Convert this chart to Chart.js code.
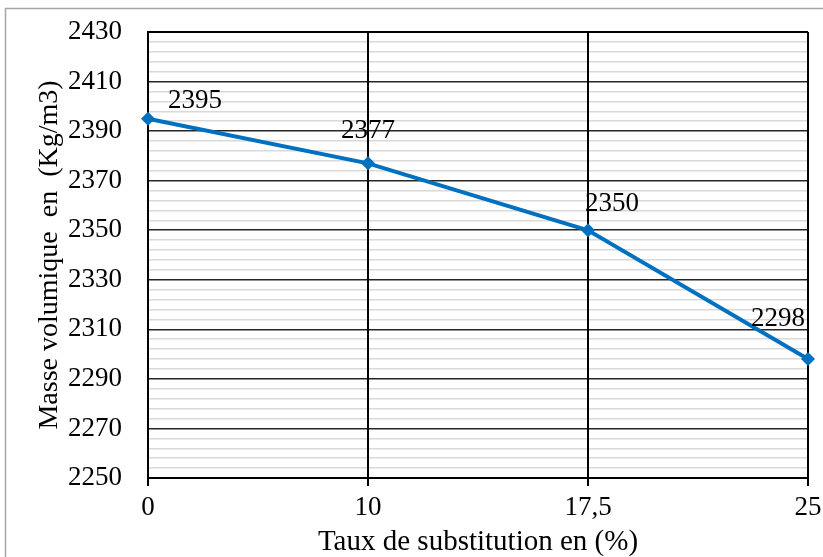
<!DOCTYPE html>
<html>
<head>
<meta charset="utf-8">
<script src="https://cdn.jsdelivr.net/npm/chart.js@4/dist/chart.umd.min.js"></script>
<style>
  html, body { margin: 0; padding: 0; background: #fff; }
  #wrap { position: relative; width: 823px; height: 557px; }
</style>
</head>
<body>
<div id="wrap"><canvas id="densityChart" width="823" height="557"></canvas></div>
<script>
// substitution rates (%) and density (kg/m3)
const taux = ['0', '10', '17,5', '25'];
const masse = [2395, 2377, 2350, 2298];

const yMin = 2250;
const yMax = 2430;
const yMajor = 20;
const yMinor = 4;

// where each value label sits relative to its point
const labelDx = [47, 0, 24, -30];
const labelDy = [-18, -32, -26, -40];

const serif = "'Liberation Serif', 'Times New Roman', serif";

// light grey frame around the whole chart
const framePlugin = {
	id: 'frame',
	beforeDraw(chart) {
		const c = chart.ctx;
		c.save();
		c.strokeStyle = '#a6a6a6';
		c.lineWidth = 1.5;
		c.strokeRect(5.5, 8.5, 840, 570);
		c.restore();
	},
};

// value labels next to each marker
const valueLabels = {
	id: 'valueLabels',
	afterDatasetsDraw(chart) {
		const c = chart.ctx;
		const meta = chart.getDatasetMeta(0);
		c.save();
		c.font = '27px ' + serif;
		c.fillStyle = '#000';
		c.textAlign = 'center';
		c.textBaseline = 'middle';
		meta.data.forEach((pt, i) => {
			c.fillText(String(masse[i]), pt.x + labelDx[i], pt.y + labelDy[i]);
		});
		c.restore();
	},
};

const ctx = document.getElementById('densityChart').getContext('2d');

new Chart(ctx, {
	type: 'line',
	data: {
		labels: taux,
		datasets: [
			{
				data: masse,
				borderColor: '#0070c0',
				backgroundColor: '#0070c0',
				borderWidth: 4,
				pointStyle: 'rectRot',
				pointRadius: 7,
				pointBorderWidth: 0,
				tension: 0,
				clip: false,
			},
		],
	},
	options: {
		responsive: false,
		animation: false,
		events: [],
		layout: { padding: { top: 32, right: 15, left: 0, bottom: 0 } },
		plugins: {
			legend: { display: false },
			tooltip: { enabled: false },
		},
		scales: {
			x: {
				type: 'category',
				offset: false,
				afterFit(scale) {
					scale.height = 79;
					scale.paddingLeft = 0;
					scale.paddingRight = 0;
				},
				grid: {
					color: '#000',
					lineWidth: 2,
					drawTicks: true,
					tickLength: 8,
					tickColor: '#000',
					z: -1,
				},
				border: { color: '#000', width: 2 },
				ticks: {
					color: '#000',
					padding: 6,
					maxRotation: 0,
					font: { family: serif, size: 27 },
				},
				title: {
					display: true,
					text: 'Taux de substitution en (%)',
					color: '#000',
					padding: { top: 0, bottom: -3 },
					font: { family: serif, size: 29 },
				},
			},
			y: {
				min: yMin,
				max: yMax,
				afterFit(scale) {
					scale.width = 148;
					scale.paddingTop = 0;
					scale.paddingBottom = 0;
				},
				// horizontal lines go underneath the vertical ones
				grid: {
					color: (c) => {
						const v = c.tick.value;
						if (v === yMax) return '#000';
						return (v - yMin) % yMajor === 0 ? '#262626' : '#d9d9d9';
					},
					lineWidth: (c) => (c.tick.value === yMax ? 2 : 1.5),
					drawTicks: false,
					z: -2,
				},
				border: { color: '#000', width: 2 },
				ticks: {
					stepSize: yMinor,
					autoSkip: false,
					color: '#000',
					padding: 26,
					font: { family: serif, size: 27 },
					callback: (v) => ((v - yMin) % yMajor === 0 ? v : ''),
				},
				title: {
					display: true,
					text: 'Masse volumique  en  (Kg/m3)',
					color: '#000',
					padding: { top: 33, bottom: 0 },
					font: { family: serif, size: 28 },
				},
			},
		},
	},
	plugins: [framePlugin, valueLabels],
});
</script>
</body>
</html>
